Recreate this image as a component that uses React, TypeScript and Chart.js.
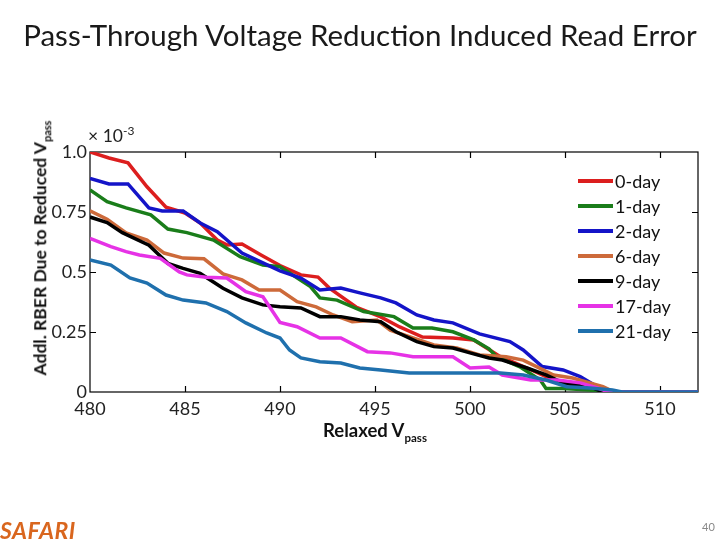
import React, { useEffect, useRef } from "react";
import { Chart, registerables } from "chart.js";

Chart.register(...registerables);

const seriesNames = ["0-day", "1-day", "2-day", "6-day", "9-day", "17-day", "21-day"];
const seriesColors = ["#dc1e1e", "#1a7d1a", "#1414c8", "#cd6a3a", "#000000", "#e632e6", "#1f70ad"];

const x0 = [480, 481, 482, 483, 484, 485, 485.8, 486.7, 487.2, 488, 489, 490, 491.1, 492, 492.6, 494, 495.3, 496.3, 497.5, 499.1, 500.2, 501.6, 503, 504, 504.9, 506.7, 507.5, 512];
const y0 = [1.0, 0.975, 0.955, 0.855, 0.77, 0.746, 0.704, 0.633, 0.613, 0.617, 0.571, 0.527, 0.488, 0.479, 0.433, 0.354, 0.313, 0.271, 0.229, 0.225, 0.217, 0.147, 0.1, 0.064, 0.038, 0.017, 0, 0];

const x1 = [480, 480.9, 481.9, 483.2, 484.1, 485.1, 486.5, 487.9, 489.1, 490, 491.6, 492.1, 493, 494.4, 496, 497, 498, 499.1, 500.2, 501, 501.4, 502.6, 503.7, 504, 504.9, 506.3, 507, 512];
const y1 = [0.842, 0.793, 0.767, 0.738, 0.679, 0.664, 0.633, 0.564, 0.529, 0.522, 0.439, 0.392, 0.383, 0.335, 0.314, 0.267, 0.267, 0.251, 0.217, 0.18, 0.147, 0.106, 0.05, 0.015, 0.015, 0.008, 0, 0];

const x2 = [480, 481, 482, 483.1, 483.8, 484.9, 485.8, 486.7, 488, 489.1, 490, 491.1, 492.1, 493.2, 494.2, 495.3, 496.1, 497.2, 498.1, 499.1, 500.5, 502.1, 502.8, 503.8, 504.9, 505.8, 506.7, 507.6, 512];
const y2 = [0.89, 0.867, 0.867, 0.767, 0.754, 0.754, 0.704, 0.668, 0.579, 0.538, 0.505, 0.475, 0.425, 0.433, 0.413, 0.392, 0.371, 0.321, 0.3, 0.288, 0.242, 0.21, 0.175, 0.106, 0.092, 0.064, 0.022, 0, 0];

const x6 = [480, 480.9, 481.9, 483, 483.9, 484.9, 486, 487, 488, 488.9, 490, 490.9, 491.9, 492.8, 493.8, 495.1, 495.8, 497, 498.1, 499.3, 500.5, 501.9, 502.8, 503.5, 504.4, 505.4, 506.3, 507, 507.6, 512];
const y6 = [0.755, 0.72, 0.663, 0.633, 0.579, 0.558, 0.555, 0.492, 0.467, 0.425, 0.425, 0.376, 0.355, 0.321, 0.293, 0.3, 0.258, 0.225, 0.196, 0.183, 0.154, 0.147, 0.133, 0.106, 0.071, 0.058, 0.038, 0.022, 0, 0];

const x9 = [480, 480.9, 481.7, 483.1, 484.1, 484.9, 485.8, 487, 488, 489.1, 490, 491.1, 492.1, 493.2, 494.2, 495.3, 496.1, 497.2, 498.1, 499.1, 500, 501, 501.7, 503, 504, 504.9, 505.6, 506.3, 507, 512];
const y9 = [0.729, 0.706, 0.664, 0.612, 0.536, 0.515, 0.494, 0.432, 0.392, 0.363, 0.355, 0.35, 0.314, 0.314, 0.3, 0.293, 0.251, 0.21, 0.189, 0.183, 0.163, 0.142, 0.133, 0.1, 0.071, 0.038, 0.029, 0.022, 0, 0];

const x17 = [480, 481.1, 481.9, 482.6, 483.7, 484.7, 485.1, 486.1, 487.2, 488.2, 489.1, 490, 490.9, 492.1, 493.2, 494.6, 495.8, 497, 498.1, 499.1, 500, 501, 501.7, 503.2, 504.6, 505.8, 506.7, 507.3, 512];
const y17 = [0.64, 0.606, 0.585, 0.571, 0.557, 0.5, 0.488, 0.478, 0.475, 0.418, 0.397, 0.29, 0.272, 0.225, 0.225, 0.168, 0.163, 0.147, 0.147, 0.147, 0.1, 0.104, 0.071, 0.05, 0.05, 0.038, 0.017, 0, 0];

const x21 = [480, 481.1, 482.1, 483, 484, 484.9, 486.1, 487.2, 488.2, 489.3, 490, 490.5, 491.1, 492.1, 493.2, 494.2, 495.3, 496.8, 498.1, 501.6, 502.8, 504, 505.1, 506.3, 507.5, 508, 512];
const y21 = [0.55, 0.529, 0.475, 0.454, 0.404, 0.383, 0.371, 0.335, 0.288, 0.246, 0.225, 0.175, 0.142, 0.126, 0.121, 0.1, 0.092, 0.079, 0.079, 0.079, 0.071, 0.05, 0.022, 0.017, 0.008, 0, 0];

const seriesX = [x0, x1, x2, x6, x9, x17, x21];
const seriesY = [y0, y1, y2, y6, y9, y17, y21];

const xTicks = [485, 490, 495, 500, 505, 510];
const yTickLabels: Record<string, string> = { "0": "0", "0.25": "0.25", "0.5": "0.5", "0.75": "0.75", "1": "1.0" };

const FONT = "Lato, 'Open Sans', sans-serif";

const boxPlugin = {
  id: "boxPlugin",
  beforeDatasetsDraw(chart: any) {
    const { ctx, chartArea: a, scales } = chart;
    const xs = scales.x;
    const ys = scales.y;
    ctx.save();
    ctx.strokeStyle = "#000";
    ctx.lineWidth = 1.2;
    ctx.strokeRect(a.left, a.top, a.right - a.left, a.bottom - a.top);
    const L = 6;
    ctx.beginPath();
    xTicks.forEach((v) => {
      const p = Math.round(xs.getPixelForValue(v)) + 0.5;
      ctx.moveTo(p, a.bottom);
      ctx.lineTo(p, a.bottom - L);
      ctx.moveTo(p, a.top);
      ctx.lineTo(p, a.top + L);
    });
    [0.25, 0.5, 0.75].forEach((v) => {
      const p = Math.round(ys.getPixelForValue(v)) + 0.5;
      ctx.moveTo(a.left, p);
      ctx.lineTo(a.left + L, p);
      ctx.moveTo(a.right, p);
      ctx.lineTo(a.right - L, p);
    });
    ctx.stroke();
    ctx.restore();
  },
};

function ChartView() {
  const ref = useRef<HTMLCanvasElement | null>(null);
  useEffect(() => {
    if (!ref.current) return;
    const datasets = seriesNames.map((name, i) => ({
      label: name,
      data: seriesX[i].map((xv, j) => ({ x: xv, y: seriesY[i][j] })),
      borderColor: seriesColors[i],
      backgroundColor: seriesColors[i],
      borderWidth: 3.5,
      pointRadius: 0,
      tension: 0,
      fill: false,
      order: seriesNames.length - 1 - i,
    }));
    const chart = new Chart(ref.current, {
      type: "line",
      data: { datasets },
      plugins: [boxPlugin],
      options: {
        animation: false,
        responsive: false,
        maintainAspectRatio: false,
        layout: { padding: { top: 152, right: 22, left: 0, bottom: 0 } },
        plugins: { legend: { display: false }, tooltip: { enabled: false }, title: { display: false } },
        scales: {
          x: {
            type: "linear",
            min: 480,
            max: 512,
            afterFit: (s: any) => { s.height = 148; },
            afterBuildTicks: (s: any) => { s.ticks = [480, 485, 490, 495, 500, 505, 510].map((v) => ({ value: v })); },
            ticks: {
              autoSkip: false,
              maxRotation: 0,
              padding: 6,
              color: "#222",
              font: { family: FONT, size: 18 },
              callback: (v: any) => String(v),
            },
            grid: { display: false, drawTicks: false },
            border: { display: false },
          },
          y: {
            type: "linear",
            min: 0,
            max: 1,
            afterFit: (s: any) => { s.width = 90; },
            afterBuildTicks: (s: any) => { s.ticks = [0, 0.25, 0.5, 0.75, 1].map((v) => ({ value: v })); },
            ticks: {
              padding: 3,
              color: "#222",
              font: { family: FONT, size: 18 },
              callback: (v: any) => yTickLabels[String(v)] ?? "",
            },
            grid: { display: false, drawTicks: false },
            border: { display: false },
          },
        },
      },
    });
    return () => chart.destroy();
  }, []);
  return <canvas ref={ref} width={720} height={540} style={{ position: "absolute", left: 0, top: 0, width: 720, height: 540 }} />;
}

export default function App() {
  return (
    <div style={{ position: "absolute", left: 0, top: 0, width: 720, height: 540, background: "#fff", overflow: "hidden", fontFamily: FONT }}>
      <ChartView />
      <div style={{ position: "absolute", left: 0, top: 17, width: 720, textAlign: "center", fontSize: 29.5, color: "#1a1a1a", whiteSpace: "nowrap" }}>
        Pass-Through Voltage Reduction Induced Read Error
      </div>
      <div style={{ position: "absolute", left: 88, top: 123, fontSize: 17.5, color: "#222", whiteSpace: "nowrap" }}>
        × 10<sup style={{ fontSize: 12 }}>-3</sup>
      </div>
      <div style={{ position: "absolute", left: 41, top: 248, transform: "translate(-50%, -50%) rotate(-90deg)", fontSize: 17.5, fontWeight: "bold", color: "#111", whiteSpace: "nowrap" }}>
        Addl. RBER Due to Reduced V<span style={{ fontSize: 11, verticalAlign: "sub" }}>pass</span>
      </div>
      <div style={{ position: "absolute", left: 375, top: 419, transform: "translateX(-50%)", fontSize: 18.5, fontWeight: "bold", color: "#111", whiteSpace: "nowrap" }}>
        Relaxed V<span style={{ fontSize: 11.5, verticalAlign: "sub" }}>pass</span>
      </div>
      {seriesNames.map((n, i) => (
        <div key={n} style={{ position: "absolute", left: 578, top: 181 + i * 25 - 11, height: 22, display: "flex", alignItems: "center", fontSize: 18, color: "#111", whiteSpace: "nowrap" }}>
          <span style={{ display: "inline-block", width: 35, height: 3.5, background: seriesColors[i] }} />
          <span style={{ marginLeft: 2 }}>{n}</span>
        </div>
      ))}
      <div style={{ position: "absolute", left: 0, top: 516, fontSize: 23, fontWeight: "bold", fontStyle: "italic", color: "#d9661e", whiteSpace: "nowrap", letterSpacing: 0.5 }}>
        SAFARI
      </div>
      <div style={{ position: "absolute", left: 702, top: 520, fontSize: 11, color: "#888" }}>40</div>
    </div>
  );
}
